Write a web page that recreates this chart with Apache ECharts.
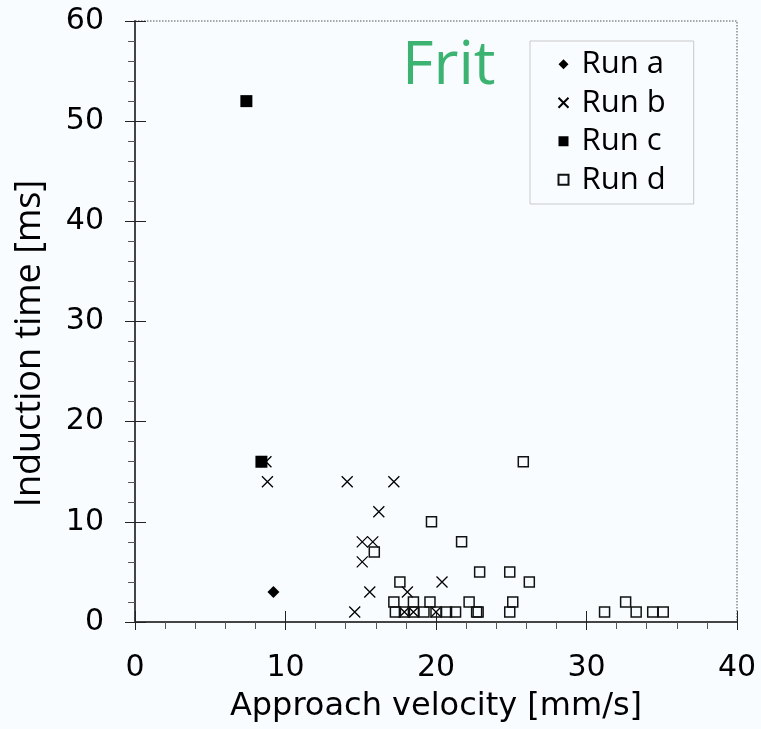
<!DOCTYPE html>
<html>
<head>
<meta charset="utf-8">
<title>Frit</title>
<script src="https://cdn.jsdelivr.net/npm/echarts@6/dist/echarts.min.js"></script>
<style>
    html, body { margin: 0; padding: 0; background: #f8fcff; }
    #main { width: 761px; height: 729px; }
</style>
</head>
<body>
<div id="main"></div>
<script>
    // data: [approach velocity mm/s, induction time ms]
    var runA = [[9.2, 3]];
    var runB = [[8.7, 16], [8.8, 14], [14.1, 14], [17.2, 14], [16.2, 11], [15.1, 8], [15.8, 8],
        [15.1, 6], [15.6, 3], [14.6, 1], [18.1, 3], [20.4, 4], [17.9, 1], [18.5, 1], [20.0, 1]];
    var runC = [[7.4, 52], [8.4, 16]];
    var runD = [[25.8, 16], [19.7, 10], [21.7, 8], [15.9, 7], [22.9, 5], [24.9, 5], [26.2, 4],
        [17.6, 4], [17.2, 2], [18.5, 2], [19.6, 2], [22.2, 2], [25.1, 2], [32.6, 2],
        [17.3, 1], [17.9, 1], [18.5, 1], [19.2, 1], [20.0, 1], [20.7, 1], [21.3, 1], [22.7, 1],
        [22.8, 1], [24.9, 1], [31.2, 1], [33.3, 1], [34.4, 1], [35.1, 1]];
    var seriesNames = ['Run a', 'Run b', 'Run c', 'Run d'];
    var xTicks = [0, 10, 20, 30, 40];
    var yTicks = [0, 10, 20, 30, 40, 50, 60];

    var tickFont = 'DejaVu Sans';
    var textFont = 'Open Sans';

    var myChart = echarts.init(document.getElementById('main'));

    // axis helpers: one axis carries labels + outward ticks, the twin draws inward major ticks
    function xAxisOf(inner) {
        return {
            type: 'value',
            position: 'bottom',
            min: xTicks[0],
            max: xTicks[xTicks.length - 1],
            interval: 10,
            name: inner ? '' : 'Approach velocity [mm/s]',
            nameLocation: 'middle',
            nameGap: 69,
            nameTextStyle: { fontFamily: tickFont, fontSize: 32, color: '#000' },
            axisLine: { show: !inner, onZero: false, lineStyle: { color: '#444', width: 2 } },
            axisTick: { show: true, inside: inner, length: inner ? 11 : 8, lineStyle: { color: '#222', width: 1 } },
            minorTick: { show: !inner, splitNumber: 5, length: 7, lineStyle: { color: '#555', width: 1 } },
            axisLabel: { show: !inner, margin: 31, fontFamily: tickFont, fontSize: 30, color: '#000' },
            splitLine: { show: false }
        };
    }

    function yAxisOf(inner) {
        return {
            type: 'value',
            position: 'left',
            min: yTicks[0],
            max: yTicks[yTicks.length - 1],
            interval: 10,
            name: inner ? '' : 'Induction time [ms]',
            nameLocation: 'middle',
            nameRotate: 90,
            nameGap: 87,
            nameTextStyle: { fontFamily: textFont, fontSize: 36, color: '#000', padding: [0, 44, 0, 0] },
            axisLine: { show: !inner, onZero: false, lineStyle: { color: '#444', width: 2 } },
            axisTick: { show: true, inside: inner, length: inner ? 11 : 10, lineStyle: { color: '#222', width: 1 } },
            minorTick: { show: !inner, splitNumber: 5, length: 7, lineStyle: { color: '#555', width: 1 } },
            axisLabel: { show: !inner, margin: 31, fontFamily: tickFont, fontSize: 30, color: '#000' },
            splitLine: { show: false }
        };
    }

    var option = {
        backgroundColor: '#f8fcff',
        animation: false,
        title: {
            text: 'Frit',
            left: 397,
            top: 31,
            textStyle: { fontFamily: textFont, fontSize: 61, fontWeight: 'normal', color: '#3cb371' }
        },
        legend: {
            orient: 'vertical',
            left: 530,
            top: 41,
            padding: [4, 28, 5, 26],
            itemGap: 0,
            itemWidth: 10,
            itemHeight: 10,
            borderColor: '#c8c8c8',
            borderWidth: 1,
            data: seriesNames,
            textStyle: { fontFamily: textFont, fontSize: 31, color: '#000', lineHeight: 38.5, padding: [0, 0, 0, 8] }
        },
        grid: {
            left: 135,
            top: 21,
            right: 24,
            bottom: 107,
            show: true,
            borderColor: '#888',
            borderWidth: 1.5,
            borderType: 'dotted',
            backgroundColor: 'transparent'
        },
        xAxis: [xAxisOf(false), xAxisOf(true)],
        yAxis: [yAxisOf(false), yAxisOf(true)],
        series: [
            {
                name: seriesNames[0],
                type: 'scatter',
                data: runA,
                symbol: 'diamond',
                symbolSize: 12,
                itemStyle: { color: '#000', opacity: 1 }
            },
            {
                name: seriesNames[1],
                type: 'scatter',
                data: runB,
                symbol: 'path://M0,0L10,10M10,0L0,10',
                symbolSize: 11,
                itemStyle: { color: 'none', borderColor: '#000', borderWidth: 1.3, opacity: 1 }
            },
            {
                name: seriesNames[2],
                type: 'scatter',
                data: runC,
                symbol: 'rect',
                symbolSize: 12,
                itemStyle: { color: '#000', opacity: 1 }
            },
            {
                name: seriesNames[3],
                type: 'scatter',
                data: runD,
                symbol: 'rect',
                symbolSize: 10,
                itemStyle: { color: 'transparent', borderColor: '#111', borderWidth: 1.5, opacity: 1 }
            }
        ]
    };

    myChart.setOption(option);
</script>
</body>
</html>
